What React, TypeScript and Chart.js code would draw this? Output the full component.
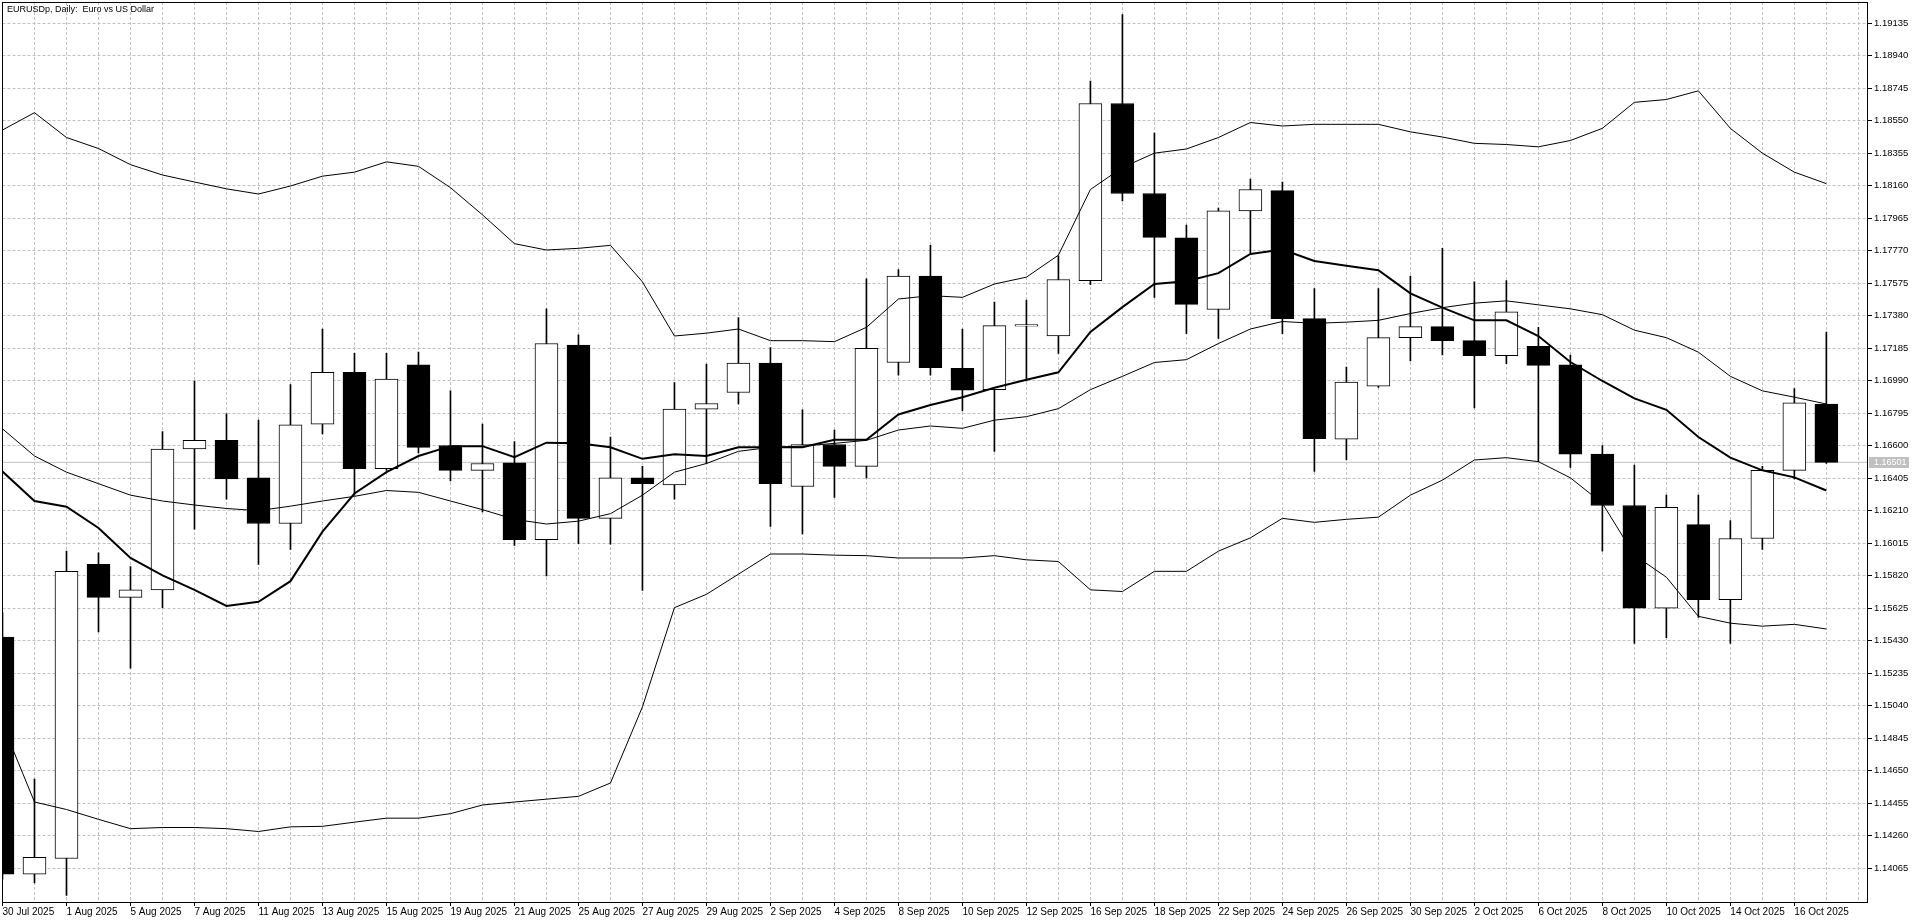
import React, { useEffect, useRef } from 'react';
import { Chart, registerables } from 'chart.js';

Chart.register(...registerables);

const chartTitle = 'EURUSDp, Daily:  Euro vs US Dollar';
const currentPrice = 1.16501;

const dates = [
  '30 Jul 2025', '31 Jul 2025', '1 Aug 2025', '4 Aug 2025', '5 Aug 2025', '6 Aug 2025', '7 Aug 2025', '8 Aug 2025',
  '11 Aug 2025', '12 Aug 2025', '13 Aug 2025', '14 Aug 2025', '15 Aug 2025', '18 Aug 2025', '19 Aug 2025', '20 Aug 2025',
  '21 Aug 2025', '22 Aug 2025', '25 Aug 2025', '26 Aug 2025', '27 Aug 2025', '28 Aug 2025', '29 Aug 2025', '1 Sep 2025',
  '2 Sep 2025', '3 Sep 2025', '4 Sep 2025', '5 Sep 2025', '8 Sep 2025', '9 Sep 2025', '10 Sep 2025', '11 Sep 2025',
  '12 Sep 2025', '15 Sep 2025', '16 Sep 2025', '17 Sep 2025', '18 Sep 2025', '19 Sep 2025', '22 Sep 2025', '23 Sep 2025',
  '24 Sep 2025', '25 Sep 2025', '26 Sep 2025', '29 Sep 2025', '30 Sep 2025', '1 Oct 2025', '2 Oct 2025', '3 Oct 2025',
  '6 Oct 2025', '7 Oct 2025', '8 Oct 2025', '9 Oct 2025', '10 Oct 2025', '13 Oct 2025', '14 Oct 2025', '15 Oct 2025',
  '16 Oct 2025', '17 Oct 2025',
];

const openPrices = [
  1.15452, 1.14030, 1.14124, 1.15889, 1.15691, 1.15736, 1.16581, 1.16633, 1.16408, 1.16134,
  1.16730, 1.17041, 1.16463, 1.17086, 1.16602, 1.16453, 1.16498, 1.16037, 1.17204, 1.16165,
  1.16408, 1.16366, 1.16820, 1.16920, 1.17097, 1.16356, 1.16608, 1.16477, 1.17100, 1.17619,
  1.17065, 1.16937, 1.17318, 1.17259, 1.17591, 1.18654, 1.18114, 1.17848, 1.17418, 1.18010,
  1.18131, 1.17363, 1.16640, 1.16958, 1.17249, 1.17315, 1.17231, 1.17141, 1.17197, 1.17086,
  1.16550, 1.16242, 1.15626, 1.16127, 1.15677, 1.16044, 1.16453, 1.16851,
];
const highPrices = [
  1.15600, 1.14601, 1.15968, 1.15958, 1.15875, 1.16685, 1.16989, 1.16792, 1.16754, 1.16968,
  1.17301, 1.17155, 1.17155, 1.17162, 1.16930, 1.16730, 1.16626, 1.17422, 1.17266, 1.16653,
  1.16477, 1.16979, 1.17090, 1.17370, 1.17190, 1.16816, 1.16695, 1.17602, 1.17657, 1.17803,
  1.17301, 1.17463, 1.17474, 1.17740, 1.18789, 1.19187, 1.18477, 1.17924, 1.18027, 1.18201,
  1.18183, 1.17543, 1.17072, 1.17543, 1.17619, 1.17785, 1.17584, 1.17591, 1.17311, 1.17145,
  1.16602, 1.16484, 1.16304, 1.16304, 1.16152, 1.16477, 1.16944, 1.17283,
];
const lowPrices = [
  1.14000, 1.13978, 1.13902, 1.15484, 1.15266, 1.15629, 1.16100, 1.16280, 1.15889, 1.15979,
  1.16671, 1.16304, 1.16453, 1.16557, 1.16390, 1.16204, 1.16003, 1.15819, 1.16013, 1.16010,
  1.15733, 1.16280, 1.16494, 1.16851, 1.16117, 1.16072, 1.16290, 1.16408, 1.17024, 1.17024,
  1.16809, 1.16567, 1.16989, 1.17155, 1.17567, 1.18069, 1.17491, 1.17273, 1.17245, 1.17751,
  1.17273, 1.16446, 1.16515, 1.16950, 1.17110, 1.17145, 1.16827, 1.17093, 1.16505, 1.16470,
  1.15968, 1.15414, 1.15449, 1.15570, 1.15414, 1.15979, 1.16401, 1.16494,
];
const closePrices = [
  1.14030, 1.14131, 1.15847, 1.15691, 1.15736, 1.16581, 1.16633, 1.16401, 1.16134, 1.16726,
  1.17041, 1.16463, 1.17000, 1.16591, 1.16453, 1.16494, 1.16037, 1.17214, 1.16165, 1.16408,
  1.16373, 1.16820, 1.16854, 1.17097, 1.16373, 1.16608, 1.16477, 1.17185, 1.17619, 1.17069,
  1.16934, 1.17321, 1.17328, 1.17598, 1.18654, 1.18114, 1.17851, 1.17449, 1.18010, 1.18138,
  1.17363, 1.16643, 1.16982, 1.17249, 1.17315, 1.17231, 1.17141, 1.17404, 1.17083, 1.16550,
  1.16242, 1.15626, 1.16231, 1.15677, 1.16044, 1.16453, 1.16858, 1.16501,
];

const bbUpper = [
  1.18495, 1.18599, 1.18450, 1.18384, 1.18287, 1.18225, 1.18183, 1.18142, 1.18111, 1.18159,
  1.18218, 1.18242, 1.18304, 1.18277, 1.18149, 1.17986, 1.17813, 1.17775, 1.17785, 1.17803,
  1.17584, 1.17259, 1.17276, 1.17301, 1.17231, 1.17231, 1.17225, 1.17311, 1.17481, 1.17501,
  1.17491, 1.17571, 1.17612, 1.17744, 1.18138, 1.18270, 1.18356, 1.18381, 1.18450, 1.18540,
  1.18519, 1.18529, 1.18529, 1.18529, 1.18484, 1.18453, 1.18415, 1.18408, 1.18394, 1.18432,
  1.18505, 1.18661, 1.18678, 1.18730, 1.18505, 1.18356, 1.18242, 1.18173,
];
const bbMiddle = [
  1.16702, 1.16539, 1.16442, 1.16373, 1.16304, 1.16269, 1.16245, 1.16224, 1.16211, 1.16238,
  1.16269, 1.16297, 1.16332, 1.16321, 1.16269, 1.16217, 1.16159, 1.16131, 1.16148, 1.16193,
  1.16304, 1.16442, 1.16494, 1.16567, 1.16591, 1.16598, 1.16615, 1.16633, 1.16695, 1.16719,
  1.16705, 1.16754, 1.16775, 1.16823, 1.16937, 1.17017, 1.17100, 1.17117, 1.17214, 1.17301,
  1.17346, 1.17335, 1.17342, 1.17353, 1.17394, 1.17429, 1.17456, 1.17470, 1.17446, 1.17422,
  1.17387, 1.17294, 1.17249, 1.17162, 1.17017, 1.16930, 1.16892, 1.16851,
];
const bbLower = [
  1.14930, 1.14463, 1.14418, 1.14359, 1.14303, 1.14310, 1.14310, 1.14303, 1.14286, 1.14314,
  1.14317, 1.14342, 1.14366, 1.14366, 1.14393, 1.14445, 1.14463, 1.14480, 1.14497, 1.14577,
  1.15034, 1.15629, 1.15709, 1.15830, 1.15951, 1.15951, 1.15944, 1.15941, 1.15927, 1.15927,
  1.15927, 1.15941, 1.15916, 1.15906, 1.15736, 1.15726, 1.15847, 1.15847, 1.15968, 1.16048,
  1.16165, 1.16141, 1.16159, 1.16172, 1.16304, 1.16394, 1.16515, 1.16529, 1.16505, 1.16408,
  1.16255, 1.15944, 1.15812, 1.15577, 1.15536, 1.15518, 1.15529, 1.15501,
];
const fastMa = [
  1.16446, 1.16269, 1.16235, 1.16107, 1.15927, 1.15823, 1.15736, 1.15639, 1.15664, 1.15788,
  1.16085, 1.16314, 1.16442, 1.16539, 1.16598, 1.16598, 1.16532, 1.16619, 1.16615, 1.16591,
  1.16522, 1.16550, 1.16539, 1.16591, 1.16591, 1.16591, 1.16636, 1.16636, 1.16788, 1.16845,
  1.16892, 1.16948, 1.16996, 1.17041, 1.17283, 1.17432, 1.17571, 1.17588, 1.17636, 1.17751,
  1.17778, 1.17709, 1.17681, 1.17654, 1.17515, 1.17429, 1.17353, 1.17353, 1.17259, 1.17103,
  1.16989, 1.16885, 1.16816, 1.16653, 1.16529, 1.16453, 1.16411, 1.16332,
];

const yTicks = [
  1.14065, 1.14260, 1.14455, 1.14650, 1.14845, 1.15040, 1.15235, 1.15430, 1.15625, 1.15820,
  1.16015, 1.16210, 1.16405, 1.16600, 1.16795, 1.16990, 1.17185, 1.17380, 1.17575, 1.17770,
  1.17965, 1.18160, 1.18355, 1.18550, 1.18745, 1.18940, 1.19135,
];

const FONT = '"Liberation Sans", Arial, sans-serif';
const GRID = '#c0c0c0';

export default function App() {
  const ref = useRef<HTMLCanvasElement>(null);

  useEffect(() => {
    document.body.style.margin = '0';
    document.body.style.overflow = 'hidden';
    const canvas = ref.current;
    if (!canvas) return;

    const n = dates.length;
    const slots = n + 1; // one empty future slot on the right
    const xMax = 58.27;

    const decor = {
      id: 'mtDecor',
      beforeDraw(chart: any) {
        const { ctx, width, height } = chart;
        ctx.save();
        ctx.fillStyle = '#ffffff';
        ctx.fillRect(0, 0, width, height);
        ctx.restore();
      },
      afterDraw(chart: any) {
        const { ctx, chartArea: a } = chart;
        ctx.save();
        ctx.setLineDash([]);
        ctx.strokeStyle = '#000';
        ctx.lineWidth = 1;
        const l = Math.floor(a.left);
        const t = Math.floor(a.top);
        ctx.strokeRect(l + 0.5, t + 0.5, Math.round(a.right) - l, Math.round(a.bottom) - t);
        ctx.fillStyle = '#000';
        ctx.font = `9px ${FONT}`;
        ctx.textAlign = 'left';
        ctx.textBaseline = 'top';
        ctx.fillText(chartTitle, 7, 5);
        const y = Math.round(chart.scales.y.getPixelForValue(currentPrice));
        ctx.fillStyle = GRID;
        ctx.fillRect(Math.round(a.right) + 2, y - 5, 40, 11);
        ctx.fillStyle = '#fff';
        ctx.textBaseline = 'middle';
        ctx.fillText(currentPrice.toFixed(5), Math.round(a.right) + 7, y + 0.5);
        ctx.restore();
      },
    };

    const lineDs = (data: number[], width: number) => ({
      type: 'line' as const,
      data: data.map((v, i) => ({ x: i, y: v })),
      borderColor: '#000',
      borderWidth: width,
      pointRadius: 0,
      tension: 0,
      fill: false,
      order: 1,
    });

    const chart = new Chart(canvas, {
      type: 'bar',
      data: {
        datasets: [
          {
            type: 'line',
            data: [{ x: 0, y: currentPrice }, { x: xMax, y: currentPrice }],
            borderColor: GRID,
            borderWidth: 1,
            pointRadius: 0,
            order: 5,
          } as any,
          {
            type: 'bar',
            data: dates.map((_, i) => ({ x: i, y: [lowPrices[i], highPrices[i]] })),
            backgroundColor: '#000',
            borderWidth: 0,
            barThickness: 1,
            grouped: false,
            clip: 0,
            order: 4,
          } as any,
          {
            type: 'bar',
            data: dates.map((_, i) => ({ x: i, y: [openPrices[i], closePrices[i]] })),
            backgroundColor: dates.map((_, i) => (closePrices[i] >= openPrices[i] ? '#ffffff' : '#000000')),
            borderColor: '#000',
            borderWidth: 1,
            borderSkipped: false,
            barThickness: 23,
            grouped: false,
            clip: 0,
            order: 3,
          } as any,
          lineDs(bbUpper, 1),
          lineDs(bbMiddle, 1),
          lineDs(bbLower, 1),
          lineDs(fastMa, 2),
        ],
      },
      options: {
        animation: false,
        responsive: false,
        devicePixelRatio: 1,
        events: [],
        layout: { padding: { left: 2.5, top: 2, right: 0, bottom: 0 } },
        plugins: {
          legend: { display: false },
          tooltip: { enabled: false },
          title: { display: false },
        },
        scales: {
          x: {
            type: 'linear',
            position: 'bottom',
            offset: false,
            min: 0,
            max: xMax,
            afterBuildTicks: (s: any) => {
              s.ticks = Array.from({ length: slots }, (_, i) => ({ value: i }));
            },
            afterFit: (s: any) => {
              s.height = 21;
              s.paddingLeft = 0;
              s.paddingRight = 0;
            },
            ticks: {
              autoSkip: false,
              maxRotation: 0,
              minRotation: 0,
              align: 'start',
              padding: 0,
              color: '#000',
              font: { family: FONT, size: 10 },
              callback: (v: any) => {
                const i = Math.round(Number(v));
                return i % 2 === 0 && i < n ? dates[i] : '';
              },
            },
            grid: {
              offset: false,
              color: GRID,
              lineWidth: 1,
              drawTicks: true,
              tickLength: 4,
              tickWidth: 1,
              tickBorderDash: [],
              tickColor: (c: any) => (c.index % 2 === 0 && c.index < n ? '#000' : 'rgba(0,0,0,0)'),
            },
            border: { display: false, dash: [3, 2] },
          },
          y: {
            type: 'linear',
            position: 'right',
            min: 1.13863,
            max: 1.19263,
            afterBuildTicks: (s: any) => {
              s.ticks = yTicks.map((v) => ({ value: v }));
            },
            afterFit: (s: any) => {
              s.width = 53;
              s.paddingTop = 0;
              s.paddingBottom = 0;
            },
            ticks: {
              padding: 2,
              color: '#000',
              font: { family: FONT, size: 9.5 },
              callback: (v: any) => Number(v).toFixed(5),
            },
            grid: {
              color: GRID,
              lineWidth: 1,
              drawTicks: true,
              tickLength: 5,
              tickWidth: 1,
              tickBorderDash: [],
              tickColor: '#000',
            },
            border: { display: false, dash: [3, 2] },
          },
        },
      } as any,
      plugins: [decor],
    });

    return () => chart.destroy();
  }, []);

  return (
    <div style={{ width: 1920, height: 923, background: '#fff' }}>
      <canvas ref={ref} width={1920} height={923} style={{ display: 'block', width: 1920, height: 923 }} />
    </div>
  );
}
